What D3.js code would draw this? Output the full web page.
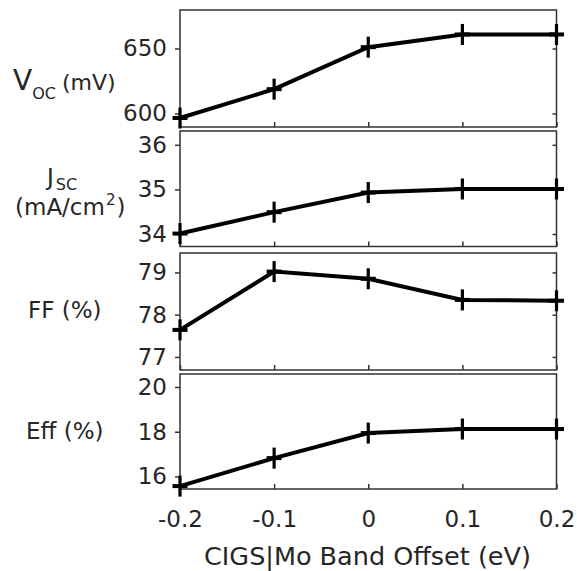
<!DOCTYPE html>
<html>
<head>
<meta charset="utf-8">
<script src="https://cdn.jsdelivr.net/npm/d3@7"></script>
<style>
  html, body { margin: 0; padding: 0; background: #fff; }
  svg { display: block; font-family: "DejaVu Sans", sans-serif; }
</style>
</head>
<body>
<svg id="chart" width="577" height="571"></svg>
<script>
// ---- data ----
const offsets = [-0.2, -0.1, 0, 0.1, 0.2];
const vocValues = [596.5, 618.7, 651.0, 660.8, 660.8];
const jscValues = [34.01, 34.49, 34.93, 35.01, 35.01];
const ffValues = [77.64, 79.02, 78.85, 78.35, 78.33];
const effValues = [15.57, 16.82, 17.94, 18.12, 18.12];

const xTicks = [-0.2, -0.1, 0, 0.1, 0.2];
const xTickLabels = ["-0.2", "-0.1", "0", "0.1", "0.2"];
const vocTicks = [600, 650];
const jscTicks = [34, 35, 36];
const ffTicks = [77, 78, 79];
const effTicks = [16, 18, 20];
const xTitle = "CIGS|Mo Band Offset (eV)";

// ---- layout ----
const svg = d3.select("#chart");
const textColor = "#262626";
const axisColor = "#333";
const left = 180, right = 556.5;
const x = d3.scaleLinear().domain([-0.2, 0.2]).range([left, right]);

const panels = [
  { values: vocValues, ticks: vocTicks, domain: [589.6, 679.6], top: 10,  bottom: 127 },
  { values: jscValues, ticks: jscTicks, domain: [33.72, 36.31], top: 131, bottom: 246.5 },
  { values: ffValues,  ticks: ffTicks,  domain: [76.69, 79.46], top: 253, bottom: 370 },
  { values: effValues, ticks: effTicks, domain: [15.44, 20.58], top: 374, bottom: 489 }
];

panels.forEach((p, i) => {
  const y = d3.scaleLinear().domain(p.domain).range([p.bottom, p.top]);
  const g = svg.append("g");

  // frame
  g.append("rect")
    .attr("x", left).attr("y", p.top)
    .attr("width", right - left).attr("height", p.bottom - p.top)
    .attr("fill", "none").attr("stroke", axisColor).attr("stroke-width", 1.5);

  // left axis (outward ticks)
  const ya = g.append("g").attr("transform", `translate(${left},0)`)
    .call(d3.axisLeft(y).tickValues(p.ticks).tickSize(5).tickPadding(8).tickFormat(d3.format("d")));
  ya.select(".domain").remove();
  ya.selectAll("line").attr("stroke", axisColor).attr("stroke-width", 1.5);
  ya.selectAll("text").attr("fill", textColor).style("font-size", "23px")
    .style("font-family", "DejaVu Sans");

  // right axis (inward ticks)
  if (i < 3) {
    const yr = g.append("g").attr("transform", `translate(${right},0)`)
      .call(d3.axisRight(y).tickValues(p.ticks).tickSize(-4).tickFormat(""));
    yr.select(".domain").remove();
    yr.selectAll("line").attr("stroke", axisColor).attr("stroke-width", 1.5);
  }

  // bottom axis (inward ticks)
  const xa = g.append("g").attr("transform", `translate(0,${p.bottom})`)
    .call(d3.axisBottom(x).tickValues(xTicks).tickSize(-5).tickPadding(22)
      .tickFormat((d, k) => i === 3 ? xTickLabels[k] : ""));
  xa.select(".domain").remove();
  xa.selectAll("line").attr("stroke", axisColor).attr("stroke-width", 1.5);
  xa.selectAll("text").attr("fill", textColor).style("font-size", "23px")
    .style("font-family", "DejaVu Sans");

  // line
  const pts = offsets.map((o, k) => [o, p.values[k]]);
  g.append("path").datum(pts)
    .attr("fill", "none").attr("stroke", "#000").attr("stroke-width", 4)
    .attr("stroke-linejoin", "miter")
    .attr("d", d3.line().x(d => x(d[0])).y(d => y(d[1])));

  // plus markers
  const m = g.selectAll(".mk").data(pts).enter().append("g")
    .attr("transform", d => `translate(${x(d[0])},${y(d[1])})`);
  m.append("line").attr("x1", 0).attr("x2", 0).attr("y1", -10.5).attr("y2", 10.5)
    .attr("stroke", "#000").attr("stroke-width", 3.2);
  m.append("line").attr("x1", -7.5).attr("x2", 7.5).attr("y1", 0).attr("y2", 0)
    .attr("stroke", "#000").attr("stroke-width", 4);
});

// ---- y labels ----
const lab = svg.append("g").attr("fill", textColor).style("font-family", "DejaVu Sans");

const t1 = lab.append("text").attr("x", 13).attr("y", 90);
t1.append("tspan").style("font-size", "28px").text("V");
t1.append("tspan").style("font-size", "16px").attr("dy", 9).text("OC");
t1.append("tspan").style("font-size", "22px").attr("dy", -9).attr("dx", 6).text("(mV)");

const t2 = lab.append("text").attr("x", 47).attr("y", 185);
t2.append("tspan").style("font-size", "23px").text("J");
t2.append("tspan").style("font-size", "16px").attr("dy", 5).attr("dx", 2).text("SC");
const t2b = lab.append("text").attr("x", 15).attr("y", 215);
t2b.append("tspan").style("font-size", "23px").text("(mA/cm");
t2b.append("tspan").style("font-size", "15px").attr("dy", -10).attr("dx", 1).text("2");
t2b.append("tspan").style("font-size", "23px").attr("dy", 10).attr("dx", 1).text(")");

lab.append("text").attr("x", 28).attr("y", 318).style("font-size", "23px").text("FF (%)");
lab.append("text").attr("x", 26).attr("y", 439).style("font-size", "23px").text("Eff (%)");

// ---- x title ----
svg.append("text").attr("x", 367.5).attr("y", 565).attr("text-anchor", "middle")
  .attr("fill", textColor).style("font-family", "DejaVu Sans").style("font-size", "25.5px")
  .text(xTitle);
</script>
</body>
</html>
